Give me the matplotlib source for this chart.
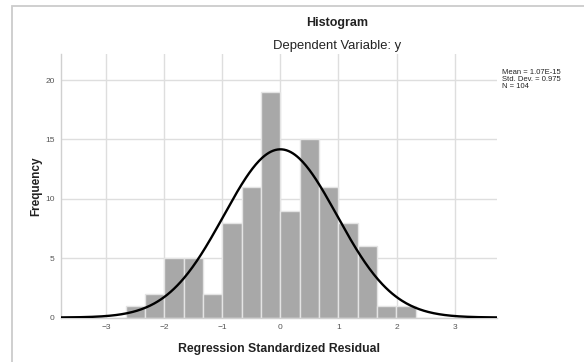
import numpy as np
import matplotlib
matplotlib.use("Agg")
import matplotlib.pyplot as plt
from matplotlib.patches import Rectangle

plt.rcParams["font.family"] = ["Liberation Sans", "DejaVu Sans"]

# histogram of regression standardized residuals
bin_start = -2.664
bin_width = 0.333
counts = [1, 2, 5, 5, 2, 8, 11, 19, 9, 15, 11, 8, 6, 1, 1]

n_obs = 104
res_mean = 0.0
res_sd = 0.975
stats_lines = ["Mean = 1.07E-15", "Std. Dev. = 0.975", "N = 104"]

x_ticks = [-3, -2, -1, 0, 1, 2, 3]
y_ticks = [0, 5, 10, 15, 20]


def main():
    fig = plt.figure(figsize=(5.84, 3.62), dpi=100)
    ax = fig.add_axes([0.1053, 0.1229, 0.7457, 0.7279])

    edges = bin_start + bin_width * np.arange(len(counts) + 1)
    ax.bar(edges[:-1], counts, width=bin_width, align="edge",
           color="#a8a8a8", edgecolor="#e4e4e4", linewidth=1.0, zorder=2)

    # fitted normal curve, scaled to counts
    xs = np.linspace(-3.77, 3.73, 400)
    pdf = np.exp(-0.5 * ((xs - res_mean) / res_sd) ** 2) / (res_sd * np.sqrt(2 * np.pi))
    ax.plot(xs, n_obs * bin_width * pdf, color="black", lw=1.7, zorder=3)

    ax.set_xlim(-3.77, 3.73)
    ax.set_ylim(0, 22.2)
    ax.set_xticks(x_ticks)
    ax.set_yticks(y_ticks)
    ax.set_xticklabels([str(t).replace("-", "\u2212") for t in x_ticks])
    ax.tick_params(length=0, labelsize=6, labelcolor="#555555", pad=5)
    ax.grid(True, color="#dedede", lw=1.0, zorder=0)
    ax.set_axisbelow(True)
    for side in ["top", "right"]:
        ax.spines[side].set_visible(False)
    for side in ["left", "bottom"]:
        ax.spines[side].set_color("#d0d0d0")
        ax.spines[side].set_linewidth(1.0)

    ax.set_xlabel("Regression Standardized Residual", fontsize=8.8,
                  fontweight="bold", labelpad=8, color="#222222")
    ax.set_ylabel("Frequency", fontsize=8.5, fontweight="bold",
                  labelpad=2, color="#222222")

    fig.text(337 / 584, 1 - 23 / 362, "Histogram", ha="center", va="center",
             fontsize=9, fontweight="bold", color="#222222")
    fig.text(337 / 584, 1 - 46.5 / 362, "Dependent Variable: y", ha="center",
             va="center", fontsize=9.4, color="#222222")

    for i, line in enumerate(stats_lines):
        fig.text(502 / 584, 1 - (72 + 7.5 * i) / 362, line, ha="left",
                 va="center", fontsize=5.5, color="#222222")

    # outer chart frame (cropped on right and bottom)
    frame = Rectangle((12 / 584, -0.1), 1.2, 1.1 - 6.5 / 362,
                      transform=fig.transFigure, fill=False,
                      edgecolor="#cccccc", lw=1.3, clip_on=False)
    fig.add_artist(frame)

    fig.savefig("out.png", dpi=100)


if __name__ == "__main__":
    main()
